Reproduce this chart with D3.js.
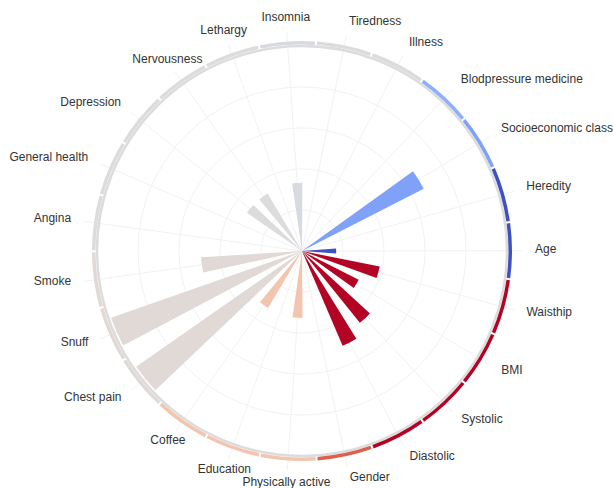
<!DOCTYPE html>
<html>
<head>
<meta charset="utf-8">
<script src="https://cdn.jsdelivr.net/npm/d3@7"></script>
<style>
  html, body { margin: 0; padding: 0; background: #fff; }
  svg { display: block; }
  text { font-family: "Liberation Sans", Arial, sans-serif; }
</style>
</head>
<body>
<svg id="chart" width="614" height="488"></svg>
<script>
// Risk factors, clockwise from the top
const categories = [
  "Insomnia", "Tiredness", "Illness", "Blodpressure medicine", "Socioeconomic class",
  "Heredity", "Age", "Waisthip", "BMI", "Systolic", "Diastolic", "Gender",
  "Physically active", "Education", "Coffee", "Chest pain", "Snuff", "Smoke",
  "Angina", "General health", "Depression", "Nervousness", "Lethargy"
];

// Bar length (importance); 0 means no bar
const importance = [
  0.100, 0, 0, 0, 0.200,
  0, 0.050, 0.116, 0.093, 0.135, 0.151, 0,
  0.098, 0, 0.097, 0.296, 0.296, 0.148,
  0, 0, 0.098, 0.098, 0
];

// Direction of the effect on a 0 (protective) .. 1 (harmful) colour scale
const direction = [
  0.48, 0.50, 0.50, 0.25, 0.21,
  0.01, 0.01, 1.00, 1.00, 1.00, 1.00, 0.87,
  0.62, 0.62, 0.62, 0.515, 0.515, 0.515,
  0.50, 0.50, 0.495, 0.495, 0.495
];

const radialTicks = [0.06, 0.12, 0.18, 0.24];
const maxImportance = 0.30;

const width = 614, height = 488;
const cx = 302, cy = 251;
const outer = 205;

const svg = d3.select("#chart");
const g = svg.append("g").attr("transform", `translate(${cx},${cy})`);

// coolwarm-like diverging palette
const coolwarm = d3.piecewise(d3.interpolateRgb, [
  "#3b4cc0", "#6282ea", "#8db0fe", "#b9d0f9", "#dddcdc",
  "#f5c4ac", "#f49a7b", "#dc5d4a", "#b40426"
]);

const n = categories.length;
const step = 2 * Math.PI / n;
const startAngle = -4 * Math.PI / 180 - step / 2;

// angular band for each category (full slot)
const angle = d3.scaleBand()
  .domain(categories)
  .range([startAngle, startAngle + 2 * Math.PI]);

// narrower band for the bars, same centres
const barAngle = d3.scaleBand()
  .domain(categories)
  .range([startAngle, startAngle + 2 * Math.PI])
  .paddingInner(0.45)
  .paddingOuter(0.225);

const r = d3.scaleLinear().domain([0, maxImportance]).range([0, outer]);

const mid = c => angle(c) + angle.bandwidth() / 2;

// grid circles
g.append("g").selectAll("circle")
  .data(radialTicks)
  .join("circle")
  .attr("r", d => r(d))
  .attr("fill", "none")
  .attr("stroke", "#f2f2f2")
  .attr("stroke-width", 1);

// radial grid lines at category centres
g.append("g").selectAll("line")
  .data(categories)
  .join("line")
  .attr("x1", 0).attr("y1", 0)
  .attr("x2", c => Math.sin(mid(c)) * (outer + 15))
  .attr("y2", c => -Math.cos(mid(c)) * (outer + 15))
  .attr("stroke", "#f2f2f2")
  .attr("stroke-width", 1);

// bars
const barArc = d3.arc()
  .innerRadius(0)
  .outerRadius(d => r(d.value))
  .startAngle(d => barAngle(d.cat))
  .endAngle(d => barAngle(d.cat) + barAngle.bandwidth());

const rows = categories.map((c, i) => ({ cat: c, value: importance[i], dir: direction[i] }));

g.append("g").selectAll("path")
  .data(rows.filter(d => d.value > 0))
  .join("path")
  .attr("d", barArc)
  .attr("fill", d => coolwarm(d.dir));

// outer ring: grey base circle plus a coloured arc per category
g.append("circle")
  .attr("r", outer)
  .attr("fill", "none")
  .attr("stroke", "#dcdcdc")
  .attr("stroke-width", 2.5);

const ringArc = d3.arc()
  .innerRadius(outer + 1.5)
  .outerRadius(outer + 5)
  .startAngle(d => angle(d.cat))
  .endAngle(d => angle(d.cat) + angle.bandwidth())
  .padAngle(0.007);

g.append("g").selectAll("path")
  .data(rows)
  .join("path")
  .attr("d", ringArc)
  .attr("fill", d => coolwarm(d.dir));

// category labels
const labelR = outer + 28;
g.append("g").selectAll("text")
  .data(categories)
  .join("text")
  .attr("x", c => Math.sin(mid(c)) * labelR)
  .attr("y", c => -Math.cos(mid(c)) * labelR - 2)
  .attr("dy", "0.35em")
  .attr("text-anchor", c => {
    const s = Math.sin(mid(c));
    if (s > 0.1) return "start";
    if (s < -0.7) return "end";
    return "middle";
  })
  .attr("font-size", 12)
  .attr("fill", "#333")
  .text(c => c);
</script>
</body>
</html>
